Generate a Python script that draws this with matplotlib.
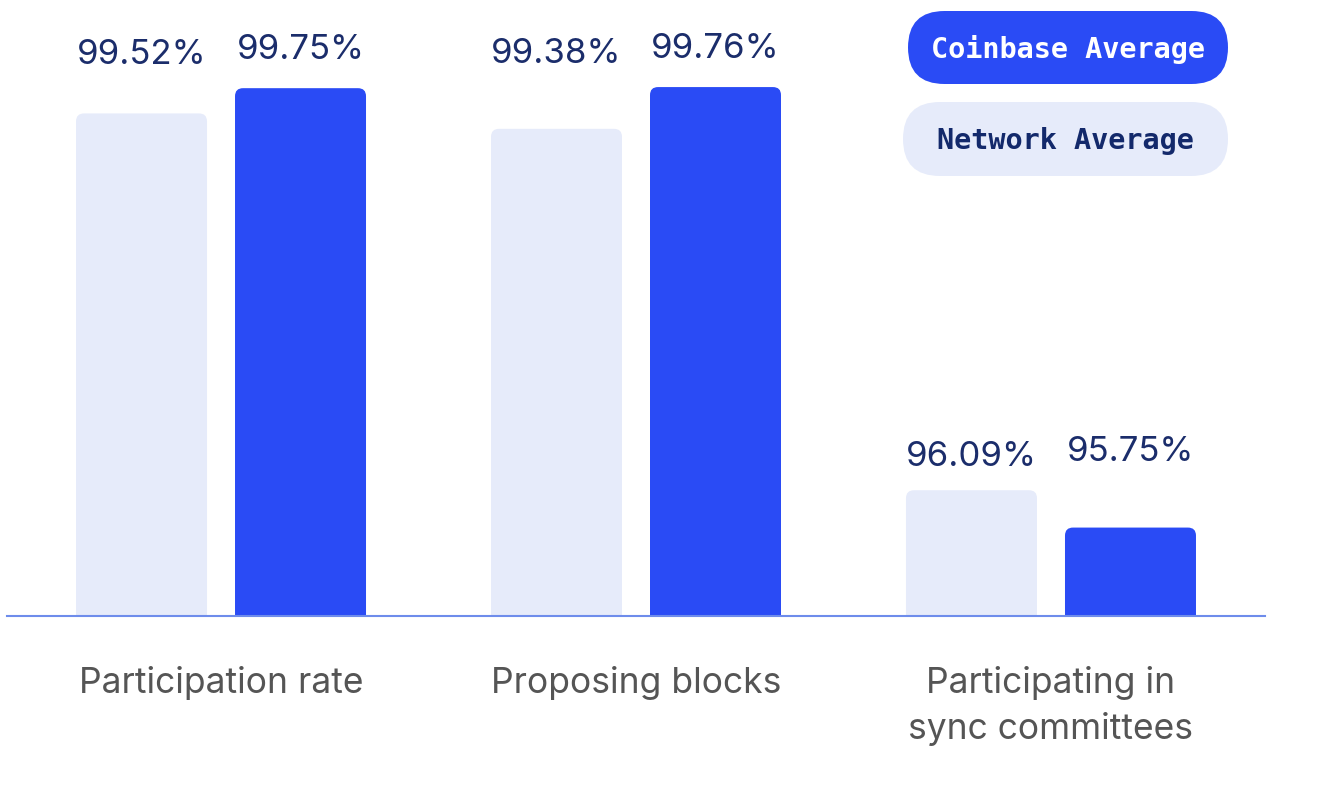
import matplotlib
matplotlib.use("Agg")
import matplotlib.pyplot as plt
from matplotlib.patches import FancyBboxPatch
import numpy as np

categories = ["Participation rate", "Proposing blocks", "Participating in\nsync committees"]
network_avg = [99.52, 99.38, 96.09]
coinbase_avg = [99.75, 99.76, 95.75]
network_labels = ["99.52%", "99.38%", "96.09%"]
coinbase_labels = ["99.75%", "99.76%", "95.75%"]
legend_names = ["Coinbase Average", "Network Average"]

BLUE = "#2A4BF5"
LIGHT = "#E6EBFA"
NAVY = "#1B2D6B"
GRAY = "#555555"
LINE = "#6E8CEB"

W, H, DPI = 1320, 804, 100
fig = plt.figure(figsize=(W / DPI, H / DPI), dpi=DPI)
fig.patch.set_facecolor("white")

# axes in pixel geometry
ax_l, ax_r, ax_top, ax_bot = 7, 1265, 0, 617
ax = fig.add_axes([ax_l / W, (H - ax_bot) / H, (ax_r - ax_l) / W, (ax_bot - ax_top) / H])
ymin, ymax = 94.945, 94.945 + 617 / 109.85
xmin, xmax = -0.5157, 2.5157
ax.set_xlim(xmin, xmax)
ax.set_ylim(ymin, ymax)

px_x = (ax_r - ax_l) / (xmax - xmin)
px_y = (ax_bot - ax_top) / (ymax - ymin)

width = 131 / px_x
off = 79.5 / px_x
x = np.arange(len(categories))

b1 = ax.bar(x - off, network_avg, width, color=LIGHT)
b2 = ax.bar(x + off, coinbase_avg, width, color=BLUE)

r_px = 8
for bars in (b1, b2):
    for rect in bars:
        x0, w, top = rect.get_x(), rect.get_width(), rect.get_y() + rect.get_height()
        fc = rect.get_facecolor()
        rect.set_visible(False)
        bottom = ymin - 1
        p = FancyBboxPatch((x0, bottom), w, top - bottom,
                           boxstyle=f"round,pad=0,rounding_size={r_px / px_x}",
                           mutation_aspect=px_x / px_y, fc=fc, ec="none", zorder=1)
        ax.add_patch(p)

for s in ["top", "left", "right"]:
    ax.spines[s].set_visible(False)
ax.spines["bottom"].set_color(LINE)
ax.spines["bottom"].set_linewidth(1.5)
ax.set_xticks([])
ax.set_yticks([])

num_font = dict(family="Inter", fontsize=25, color=NAVY)
pt = 72 / DPI
for i in range(len(categories)):
    gmax = max(network_avg[i], coinbase_avg[i])
    ax.annotate(network_labels[i], xy=(x[i] - off, gmax), xytext=(0, 25 * pt),
                textcoords="offset points", ha="center", va="baseline", **num_font)
    ax.annotate(coinbase_labels[i], xy=(x[i] + off, gmax), xytext=(0, 30 * pt),
                textcoords="offset points", ha="center", va="baseline", **num_font)
    ax.annotate(categories[i], xy=(x[i], 0), xycoords=("data", "axes fraction"),
                xytext=(0, -49 * pt), textcoords="offset points", ha="center", va="top",
                family="Inter", fontsize=25.5, color=GRAY, linespacing=1.43)

# legend pills in pixel space
lax = fig.add_axes([0, 0, 1, 1], facecolor="none")
lax.set_xlim(0, W)
lax.set_ylim(H, 0)
lax.axis("off")
pills = [(908, 12, 1228, 85, BLUE, "white", 1068), (903, 103, 1228, 177, LIGHT, "#13296B", 1065)]
for (x0, y0, x1, y1, fc, tc, tx), name in zip(pills, legend_names):
    h = y1 - y0
    p = FancyBboxPatch((x0, y0), x1 - x0, h,
                       boxstyle=f"round,pad=0,rounding_size={h / 2}", fc=fc, ec="none")
    lax.add_patch(p)
    lax.text(tx, (y0 + y1) / 2 + 1, name, ha="center", va="center", color=tc,
             family="DejaVu Sans Mono", fontweight="bold", fontsize=20.5)

fig.savefig("out.png", dpi=DPI, facecolor="white")
